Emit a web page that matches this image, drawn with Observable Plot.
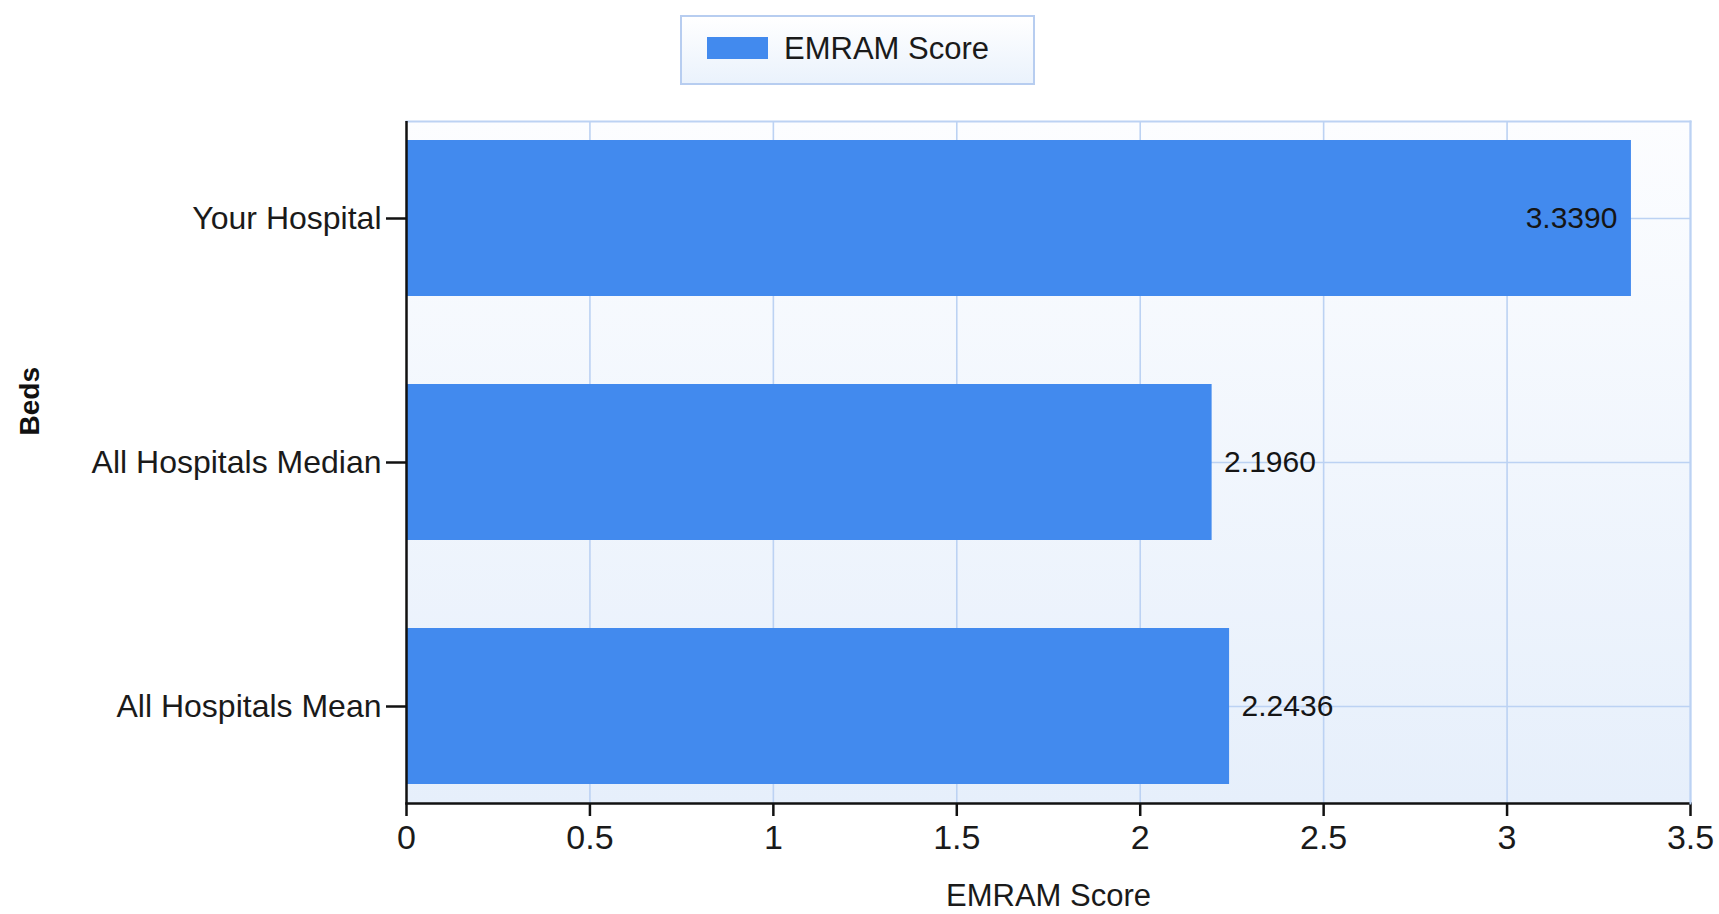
<!DOCTYPE html>
<html>
<head>
<meta charset="utf-8">
<script src="https://cdn.jsdelivr.net/npm/d3@7"></script>
<script src="https://cdn.jsdelivr.net/npm/@observablehq/plot@0.6"></script>
<style>
  html, body { margin: 0; padding: 0; background: #fff; overflow: hidden; }
  body { width: 1719px; height: 914px; font-family: "Liberation Sans", Arial, sans-serif; }
  #legendRow { position: relative; height: 100px; }
  #legend {
    position: absolute; left: 680px; top: 15px; width: 351px; height: 66px;
    border: 2px solid #b7cdf0;
    background: linear-gradient(to bottom, #ffffff, #eaf2fc);
  }
  #legend .sw { position: absolute; left: 25px; top: 20px; width: 61px; height: 22px; background: #428aee; }
  #legend .lab { position: absolute; left: 102px; top: 12px; font-size: 31px; line-height: 40px; color: #1a1a1a; }
  #chart svg { display: block; }
</style>
</head>
<body>
<div id="legendRow"><div id="legend"><div class="sw"></div><div class="lab">EMRAM Score</div></div></div>
<div id="chart"></div>
<script>
const categories = ["Your Hospital", "All Hospitals Median", "All Hospitals Mean"];
const scores = [3.339, 2.196, 2.2436];
const xTicks = [0, 0.5, 1, 1.5, 2, 2.5, 3, 3.5];
const seriesName = "EMRAM Score";
const yTitle = "Beds";

const rows = categories.map((c, i) => ({category: c, value: scores[i]}));
const barColor = "#428aee";
const gridColor = "#bcd2f3";
const insideThreshold = 3.0;

const chart = Plot.plot({
  width: 1719,
  height: 814,
  marginTop: 21,
  marginBottom: 111,
  marginLeft: 406,
  marginRight: 29,
  style: {fontFamily: "'Liberation Sans', Arial, sans-serif", background: "transparent"},
  x: {domain: [0, 3.5]},
  y: {domain: categories, paddingInner: 0.362, paddingOuter: 0.078},
  marks: [
    Plot.frame({fill: "url(#bgGrad)", stroke: null}),
    Plot.ruleX(xTicks.slice(1), {stroke: gridColor, strokeWidth: 1.6}),
    Plot.frame({anchor: "top", stroke: gridColor, strokeWidth: 2}),
    Plot.ruleY(categories, {y: d => d, stroke: gridColor, strokeWidth: 1.6}),
    Plot.barX(rows, {y: "category", x: "value", fill: barColor}),
    Plot.text(rows.filter(d => d.value <= insideThreshold), {
      y: "category", x: "value", text: d => d.value.toFixed(4),
      textAnchor: "start", dx: 12, fontSize: 30, fill: "#151515"
    }),
    Plot.text(rows.filter(d => d.value > insideThreshold), {
      y: "category", x: "value", text: d => d.value.toFixed(4),
      textAnchor: "end", dx: -14, fontSize: 30, fill: "#151515"
    }),
    Plot.axisY({
      tickSize: 20, tickPadding: 5, label: null, fontSize: 32,
      stroke: "#111", strokeWidth: 2.5, fill: "#1a1a1a"
    }),
    Plot.axisX({
      ticks: xTicks, tickFormat: d => String(d), tickSize: 13, tickPadding: 8,
      fontSize: 34, stroke: "#111", strokeWidth: 2.5, fill: "#1a1a1a",
      label: null
    }),
    Plot.ruleX([0], {stroke: "#111", strokeWidth: 2.5}),
    Plot.frame({anchor: "bottom", stroke: "#111", strokeWidth: 2.5}),
    Plot.frame({anchor: "right", stroke: gridColor, strokeWidth: 2}),
    Plot.text([seriesName], {
      frameAnchor: "bottom", dy: 102, fontSize: 31, fill: "#1a1a1a", lineAnchor: "bottom"
    }),
    Plot.text([yTitle], {
      frameAnchor: "left", dx: -376, dy: -27, rotate: -90, fontSize: 28,
      fontWeight: "bold", fill: "#111"
    })
  ]
});

// gradient definition for the plot background
const svg = d3.select(chart);
const defs = svg.insert("defs", ":first-child");
const g = defs.append("linearGradient").attr("id", "bgGrad")
  .attr("x1", 0).attr("y1", 0).attr("x2", 0).attr("y2", 1);
g.append("stop").attr("offset", "0%").attr("stop-color", "#fcfdff");
g.append("stop").attr("offset", "100%").attr("stop-color", "#e6effb");

document.getElementById("chart").appendChild(chart);
</script>
</body>
</html>
